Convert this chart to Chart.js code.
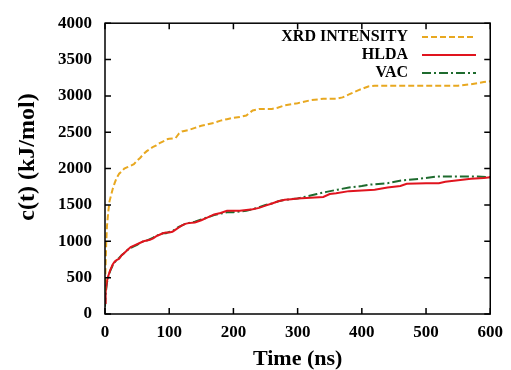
<!DOCTYPE html>
<html><head><meta charset="utf-8">
<script src="https://cdn.jsdelivr.net/npm/chart.js@4/dist/chart.umd.min.js"></script>
<style>html,body{margin:0;padding:0;background:#fff}#wrap{width:511px;height:370px}</style>
</head><body><div id="wrap"><canvas id="c" width="511" height="370"></canvas></div>
<script>
const seriesNames = ["XRD INTENSITY", "HLDA", "VAC"];
const xTicks = [0, 100, 200, 300, 400, 500, 600];
const yTicks = [0, 500, 1000, 1500, 2000, 2500, 3000, 3500, 4000];
const xTitle = "Time (ns)";
const yTitle = "c(t) (kJ/mol)";
const xrdTime = [0,1,2,3,5,7,10,12,15,18,22,27,30,35,40,45,50,55,60,65,70,75,80,85,90,95,100,110,115,120,130,140,150,160,170,180,190,200,210,220,230,240,260,270,280,300,320,340,360,370,380,395,410,420,440,480,520,550,570,590,600];
const xrdValue = [300,700,1000,1200,1400,1550,1650,1720,1800,1870,1930,1970,2000,2020,2040,2060,2110,2150,2200,2240,2270,2300,2320,2350,2370,2400,2410,2420,2480,2510,2530,2560,2590,2610,2630,2660,2680,2700,2710,2730,2800,2820,2820,2840,2870,2900,2940,2960,2960,2980,3020,3080,3130,3140,3140,3140,3140,3140,3160,3190,3200];
const hldaTime = [0,1,3,5,8,12,15,18,22,26,30,35,40,45,50,55,60,65,70,75,80,85,90,95,100,105,110,115,120,125,130,140,150,160,170,180,190,200,210,220,230,240,250,260,270,280,290,300,320,340,350,360,380,400,420,440,460,470,500,520,530,550,570,590,600];
const hldaValue = [150,300,450,520,600,680,720,740,760,810,840,880,920,940,960,980,1000,1010,1020,1040,1070,1090,1110,1120,1120,1130,1160,1190,1220,1240,1250,1260,1290,1330,1370,1390,1420,1420,1420,1430,1440,1460,1490,1520,1550,1570,1580,1590,1600,1610,1650,1660,1690,1700,1710,1740,1760,1790,1800,1800,1820,1840,1860,1870,1880];
const vacTime = [0,1,3,5,8,12,15,18,22,26,30,35,40,45,50,55,60,65,70,75,80,85,90,95,100,105,110,115,120,125,130,140,150,160,170,180,190,200,210,220,230,240,250,260,270,280,290,300,315,330,345,362,380,400,413,440,464,490,515,550,580,600];
const vacValue = [100,280,430,510,590,670,710,740,770,810,840,880,910,930,950,980,1000,1010,1030,1050,1080,1090,1110,1110,1130,1140,1170,1200,1220,1240,1250,1270,1300,1330,1360,1380,1400,1400,1410,1420,1440,1470,1500,1520,1550,1570,1580,1590,1620,1650,1680,1710,1740,1760,1780,1800,1840,1860,1890,1890,1890,1880];

const colors = ['#E8A820', '#E0141E', '#1E6B2E'];
const dashes = [[6,3], [], [9,3,2,3]];
const serif = "'Liberation Serif', 'Times New Roman', serif";

function pts(t, v){ return t.map((x,i)=>({x:x, y:v[i]})); }

const boxPlugin = {
  id: 'boxTicks',
  afterDraw(chart){
    const ctx = chart.ctx, a = chart.chartArea;
    const xs = chart.scales.x, ys = chart.scales.y;
    ctx.save();
    ctx.strokeStyle = '#000'; ctx.lineWidth = 1.5;
    ctx.strokeRect(a.left, a.top, a.right-a.left, a.bottom-a.top);
    ctx.beginPath();
    const L = 6;
    xTicks.forEach(v=>{ const p = xs.getPixelForValue(v);
      ctx.moveTo(p, a.bottom); ctx.lineTo(p, a.bottom-L);
      ctx.moveTo(p, a.top); ctx.lineTo(p, a.top+L); });
    yTicks.forEach(v=>{ const p = ys.getPixelForValue(v);
      ctx.moveTo(a.left, p); ctx.lineTo(a.left+L, p);
      ctx.moveTo(a.right, p); ctx.lineTo(a.right-L, p); });
    ctx.stroke();
    // y axis title
    ctx.save();
    ctx.translate(28, 157);
    ctx.rotate(-Math.PI/2);
    ctx.font = "bold 24px " + serif;
    ctx.fillStyle = '#000'; ctx.textAlign = 'center'; ctx.textBaseline = 'middle';
    ctx.fillText(yTitle, 0, 0);
    ctx.restore();
    // legend
    ctx.font = "bold 16px " + serif;
    ctx.textAlign = 'right'; ctx.textBaseline = 'middle';
    chart.data.datasets.forEach((ds,i)=>{
      const y = 37 + i*18;
      ctx.fillStyle = '#000';
      ctx.fillText(ds.label, 408, y);
      ctx.strokeStyle = ds.borderColor; ctx.lineWidth = 2;
      ctx.setLineDash(ds.borderDash || []);
      ctx.beginPath(); ctx.moveTo(422, y); ctx.lineTo(476, y); ctx.stroke();
      ctx.setLineDash([]);
    });
    ctx.restore();
  }
};

new Chart(document.getElementById('c'), {
  type: 'scatter',
  data: {
    datasets: [
      {label: seriesNames[0], data: pts(xrdTime, xrdValue)},
      {label: seriesNames[1], data: pts(hldaTime, hldaValue)},
      {label: seriesNames[2], data: pts(vacTime, vacValue)}
    ].map((d,i)=>Object.assign(d, {showLine:true, borderColor:colors[i], backgroundColor:colors[i], borderWidth:2, borderDash:dashes[i], pointRadius:0, tension:0}))
  },
  options: {
    responsive: false, animation: false,
    layout: {padding: {left:0, right:16, top:19, bottom:0}},
    plugins: {legend:{display:false}, tooltip:{enabled:false}},
    scales: {
      x: {
        type:'linear', min:0, max:600,
        afterBuildTicks(s){ s.ticks = xTicks.map(v=>({value:v})); },
        afterFit(s){ s.height = 56; },
        grid:{display:false, drawTicks:false}, border:{display:false},
        ticks:{color:'#000', padding:8, callback:v=>String(v), font:{family:serif, size:17, weight:'bold'}},
        title:{display:true, text:xTitle, color:'#000', padding:{top:0,bottom:0}, font:{family:serif, size:22, weight:'bold', lineHeight:1.0}}
      },
      y: {
        type:'linear', min:0, max:4000,
        afterBuildTicks(s){ s.ticks = yTicks.map(v=>({value:v})); },
        afterFit(s){ s.width = 105; },
        grid:{display:false, drawTicks:false}, border:{display:false},
        ticks:{color:'#000', padding:13, callback:v=>String(v), font:{family:serif, size:17, weight:'bold'}},
        title:{display:false}
      }
    }
  },
  plugins:[boxPlugin]
});
</script></body></html>
